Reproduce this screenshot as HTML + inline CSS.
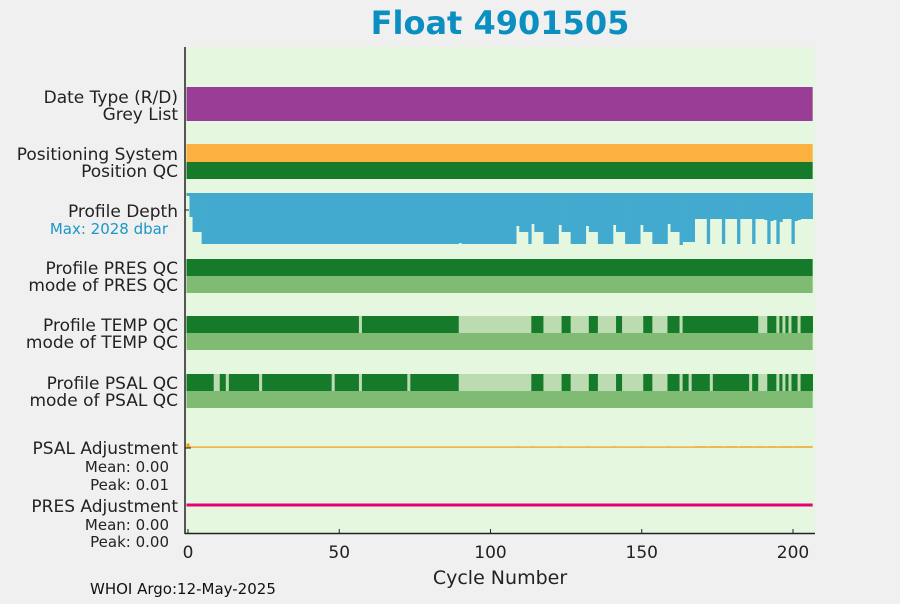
<!DOCTYPE html>
<html><head><meta charset="utf-8"><style>
body{margin:0;background:#f0f0f0;font-family:"DejaVu Sans","Liberation Sans",sans-serif}
svg text{font-family:"DejaVu Sans","Liberation Sans",sans-serif}
</style></head><body>
<svg id="chart" width="900" height="600" viewBox="0 0 900 600" xmlns="http://www.w3.org/2000/svg">
<rect x="0" y="0" width="900" height="600" fill="#f0f0f0"/>
<text x="500" y="34" text-anchor="middle" font-size="32" font-weight="bold" fill="#0a8fc0">Float 4901505</text>
<rect x="185" y="47" width="630" height="486" fill="#e5f8df"/>
<g id="marks"></g>
<g font-size="17" fill="#222" text-anchor="end">
<text x="178" y="103">Date Type (R/D)</text>
<text x="178" y="120">Grey List</text>
<text x="178" y="160">Positioning System</text>
<text x="178" y="177">Position QC</text>
<text x="178" y="217">Profile Depth</text>
<text x="168" y="234" font-size="15" fill="#1a96c8">Max: 2028 dbar</text>
<text x="178" y="274">Profile PRES QC</text>
<text x="178" y="291">mode of PRES QC</text>
<text x="178" y="331">Profile TEMP QC</text>
<text x="178" y="348">mode of TEMP QC</text>
<text x="178" y="389">Profile PSAL QC</text>
<text x="178" y="406">mode of PSAL QC</text>
<text x="178" y="454">PSAL Adjustment</text>
<text x="169" y="472" font-size="15">Mean: 0.00</text>
<text x="169" y="490" font-size="15">Peak: 0.01</text>
<text x="178" y="512">PRES Adjustment</text>
<text x="169" y="530" font-size="15">Mean: 0.00</text>
<text x="169" y="547" font-size="15">Peak: 0.00</text>
</g>
<line x1="185" y1="47" x2="185" y2="534" stroke="#222" stroke-width="1.5"/>
<line x1="185" y1="533.5" x2="815" y2="533.5" stroke="#222" stroke-width="1.5"/>
<line x1="185" y1="210" x2="189" y2="210" stroke="#222"/>
<line x1="185" y1="448" x2="191" y2="448" stroke="#222"/>
<g id="xticks" font-size="17" fill="#222" text-anchor="middle"></g>
<text x="500" y="584" text-anchor="middle" font-size="19" fill="#222">Cycle Number</text>
<text x="90" y="594" font-size="15" fill="#111">WHOI Argo:12-May-2025</text>
</svg>
<script>
const NC = 207;
const xTickValues = [0, 50, 100, 150, 200];
const maxDepth = 2028;
// depth runs: [count, depth dbar]
const depthRuns = [[1,117],[1,936],[3,1521],[85,1990],[1,1950],[18,1990],[1,1287],[3,1521],[1,1990],[1,1209],[3,1521],[5,1990],[1,1248],[3,1521],[5,1990],[1,1287],[3,1521],[5,1990],[1,1248],[3,1521],[5,1990],[1,1248],[3,1521],[5,1990],[1,1209],[3,1521],[1,2028],[4,1911],[4,1014],[1,1990],[4,1014],[1,1990],[4,1014],[1,1990],[4,1014],[1,1990],[3,1014],[1,1053],[1,1990],[1,1092],[1,1053],[1,1990],[1,1131],[3,1014],[1,1990],[1,1092],[1,1053],[4,1014]];
// QC runs: [count, flag] 1=good, 0=bad
const tempQCRuns = [[57,1],[1,0],[32,1],[24,0],[4,1],[6,0],[3,1],[6,0],[3,1],[6,0],[2,1],[7,0],[3,1],[5,0],[4,1],[1,0],[25,1],[3,0],[3,1],[1,0],[1,1],[1,0],[1,1],[1,0],[2,1],[1,0],[4,1]];
const psalQCRuns = [[9,1],[2,0],[2,1],[1,0],[10,1],[1,0],[23,1],[1,0],[8,1],[1,0],[15,1],[1,0],[16,1],[24,0],[4,1],[6,0],[3,1],[6,0],[3,1],[6,0],[2,1],[7,0],[3,1],[5,0],[4,1],[1,0],[2,1],[1,0],[6,1],[1,0],[12,1],[1,0],[2,1],[3,0],[3,1],[1,0],[1,1],[1,0],[1,1],[1,0],[2,1],[1,0],[4,1]];
const psalAdjCycles = [0,109,114,123,132,141,150,159,168,169,170,171,173,174,175,176,178,179,180,181,183,184,185,186,188,189,190,192,193,194,196,197,198,199,201,202,203,204,205,206];
const psalAdjValues = [0.01,0.003,0.003,0.003,0.003,0.003,0.003,0.003,0.003,0.003,0.003,0.003,0.003,0.003,0.003,0.003,0.003,0.003,0.003,0.003,0.003,0.003,0.003,0.003,0.003,0.003,0.003,0.003,0.003,0.003,0.003,0.003,0.003,0.003,0.003,0.003,0.003,0.003,0.003,0.003];
const presAdjValue = 0.0;

const x = c => 188 + c * 3.025;
const W = 3.025;
const NS = 'http://www.w3.org/2000/svg';
const g = document.getElementById('marks');
function rect(x0, y0, w, h, fill, name) {
  const r = document.createElementNS(NS, 'rect');
  r.setAttribute('x', x0); r.setAttribute('y', y0);
  r.setAttribute('width', w); r.setAttribute('height', h);
  r.setAttribute('fill', fill);
  
  
  g.appendChild(r);
  return r;
}
const full = x(NC - 0.5) - x(-0.5);
rect(x(-0.5), 87, full, 34, '#993d96', 'date-type-band');
rect(x(-0.5), 144, full, 18, '#fbb040', 'positioning-system-band');
rect(x(-0.5), 162, full, 17, '#157a2a', 'position-qc-band');
// depth
const dTop = 193, dH = 52;
const yD = d => dTop + d / maxDepth * dH;
let c = 0;
depthRuns.forEach(([n, d]) => {
  rect(x(c - 0.5), dTop, n * W + 0.3, yD(d) - dTop, '#42aacf', 'depth-bar');
  c += n;
});
rect(x(-0.5), 259, full, 17, '#157a2a', 'pres-qc-band');
rect(x(-0.5), 276, full, 17, '#7fbb72', 'pres-qc-mode-band');
function qcRow(runs, y0, name) {
  let c = 0;
  runs.forEach(([n, f]) => {
    rect(x(c - 0.5), y0, n * W + 0.3, 17, f ? '#157a2a' : '#bddbb0', name);
    c += n;
  });
}
qcRow(tempQCRuns, 316, 'temp-qc-segment');
rect(x(-0.5), 333, full, 17, '#7fbb72', 'temp-qc-mode-band');
qcRow(psalQCRuns, 374, 'psal-qc-segment');
rect(x(-0.5), 391, full, 17, '#7fbb72', 'psal-qc-mode-band');
// PSAL adjustment
rect(x(-0.5), 446.5, full, 1.2, '#f39c12', 'psal-adjustment-line');
psalAdjCycles.forEach((cy, i) => {
  const h = psalAdjValues[i] / 0.01 * 4;
  rect(x(cy - 0.5), 447.5 - h, W, h, '#f39c12', 'psal-adjustment-bar');
});
// PRES adjustment
rect(x(-0.5), 503.5 - presAdjValue, full, 3, '#e5007a', 'pres-adjustment-line');
// x ticks
const xt = document.getElementById('xticks');
xTickValues.forEach(v => {
  const l = document.createElementNS(NS, 'line');
  l.setAttribute('x1', x(v)); l.setAttribute('x2', x(v));
  l.setAttribute('y1', 533); l.setAttribute('y2', 529);
  l.setAttribute('stroke', '#222');
  
  
  xt.appendChild(l);
  const t = document.createElementNS(NS, 'text');
  t.setAttribute('x', x(v)); t.setAttribute('y', 558);
  t.textContent = v;
  
  
  xt.appendChild(t);
});
</script>
</body></html>
